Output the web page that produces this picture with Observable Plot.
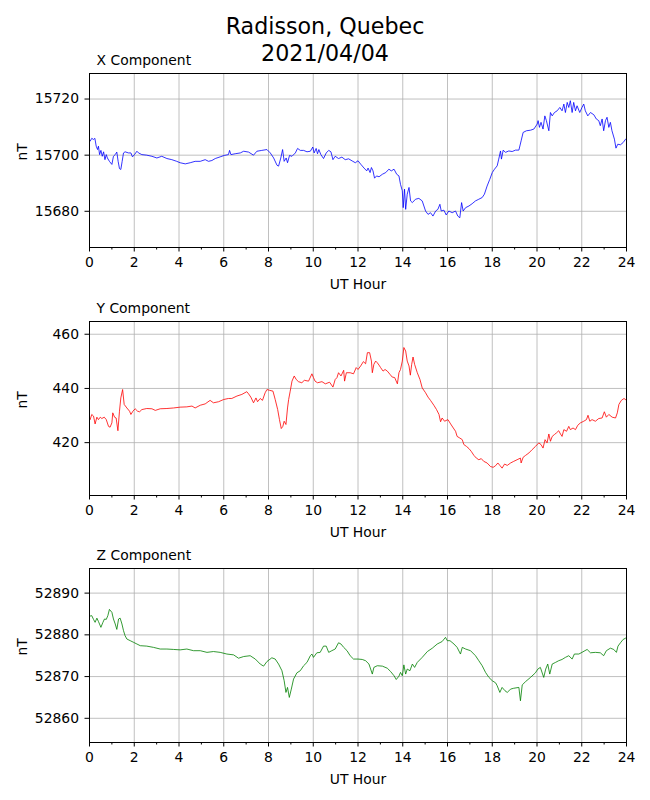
<!DOCTYPE html>
<html><head><meta charset="utf-8">
<script src="https://cdn.jsdelivr.net/npm/d3@7"></script>
<script src="https://cdn.jsdelivr.net/npm/@observablehq/plot@0.6"></script>
<style>
body{margin:0;background:#fff;width:650px;height:800px;position:relative;overflow:hidden;font-family:"DejaVu Sans",sans-serif;}
#title{position:absolute;left:0;top:13px;width:650px;text-align:center;font-size:22.2px;line-height:27.4px;color:#000;}
.panel{position:absolute;left:0;}
</style></head><body>
<div id="title">Radisson, Quebec<br>2021/04/04</div>
<div id="p0" class="panel"></div>
<div id="p1" class="panel"></div>
<div id="p2" class="panel"></div>
<script>
// [UT hour, nT]
const xComponent = [[0.03,15705.0],[0.10,15706.0],[0.18,15705.6],[0.24,15706.0],[0.30,15703.2],[0.36,15702.0],[0.40,15703.2],[0.45,15700.2],[0.51,15701.7],[0.57,15699.6],[0.63,15701.2],[0.69,15698.4],[0.75,15700.2],[0.80,15699.0],[0.89,15697.8],[1.00,15696.7],[1.07,15699.6],[1.15,15700.2],[1.22,15701.1],[1.28,15697.8],[1.34,15695.2],[1.40,15694.9],[1.46,15697.8],[1.52,15700.8],[1.59,15701.2],[1.74,15700.8],[1.85,15700.8],[1.92,15699.4],[2.01,15700.2],[2.12,15701.4],[2.19,15700.8],[2.34,15700.2],[2.56,15700.0],[2.79,15699.6],[3.01,15699.0],[3.23,15699.6],[3.46,15698.8],[3.68,15698.4],[3.90,15697.8],[4.05,15697.3],[4.28,15696.9],[4.50,15697.3],[4.72,15697.8],[4.95,15697.8],[5.17,15698.4],[5.32,15697.8],[5.47,15698.1],[5.62,15698.8],[5.84,15699.4],[6.02,15699.9],[6.21,15700.2],[6.26,15701.7],[6.32,15700.2],[6.51,15700.5],[6.74,15700.8],[6.89,15701.4],[7.11,15701.1],[7.33,15700.0],[7.48,15701.4],[7.70,15701.7],[7.93,15702.0],[8.08,15700.8],[8.23,15699.0],[8.38,15696.4],[8.45,15696.1],[8.55,15699.0],[8.63,15702.0],[8.70,15697.8],[8.79,15699.0],[8.85,15697.3],[8.94,15699.9],[9.05,15699.6],[9.20,15700.8],[9.30,15702.4],[9.42,15701.7],[9.57,15701.7],[9.72,15701.2],[9.87,15701.4],[9.98,15702.9],[10.04,15700.8],[10.13,15702.4],[10.19,15700.5],[10.25,15702.0],[10.34,15700.2],[10.46,15698.8],[10.58,15700.8],[10.69,15701.7],[10.79,15701.2],[10.88,15698.4],[10.98,15699.6],[11.13,15698.8],[11.28,15699.3],[11.43,15698.4],[11.58,15698.7],[11.77,15697.8],[11.88,15697.3],
[12.00,15698.0],[12.12,15696.8],[12.27,15695.4],[12.39,15694.4],[12.45,15695.4],[12.54,15693.8],[12.60,15695.6],[12.67,15694.4],[12.74,15691.8],[12.83,15692.6],[12.94,15692.3],[13.09,15693.2],[13.24,15693.8],[13.38,15695.0],[13.49,15694.4],[13.61,15695.0],[13.73,15693.2],[13.83,15692.6],[13.90,15689.6],[13.98,15687.3],[14.02,15681.3],[14.08,15687.9],[14.13,15680.7],[14.20,15686.1],[14.28,15688.5],[14.35,15683.7],[14.43,15683.1],[14.57,15684.3],[14.72,15684.6],[14.87,15683.7],[15.02,15680.1],[15.13,15678.9],[15.24,15679.5],[15.35,15678.3],[15.47,15680.1],[15.57,15680.7],[15.66,15682.5],[15.72,15680.1],[15.84,15680.4],[15.94,15678.7],[16.06,15680.1],[16.21,15679.5],[16.36,15680.1],[16.46,15678.3],[16.55,15677.7],[16.63,15683.1],[16.70,15680.1],[16.81,15681.3],[16.96,15681.9],[17.10,15682.7],[17.25,15683.7],[17.40,15684.3],[17.55,15684.9],[17.65,15686.1],[17.77,15689.0],[17.89,15691.4],[18.00,15693.8],[18.10,15695.0],[18.22,15696.2],[18.29,15698.6],[18.37,15701.5],[18.41,15698.6],[18.49,15701.8],[18.59,15701.0],[18.74,15701.5],[18.89,15701.3],[19.04,15701.8],[19.19,15701.8],[19.29,15705.1],[19.38,15708.1],[19.53,15708.7],[19.71,15708.9],[19.86,15709.3],[20.01,15711.1],[20.05,15712.3],[20.11,15709.9],[20.18,15711.7],[20.27,15709.3],[20.35,15714.0],[20.42,15712.3],[20.53,15708.7],[20.60,15715.2],[20.68,15714.0],[20.78,15715.2],[20.90,15715.8],[21.02,15717.0],[21.12,15715.8],[21.20,15718.2],[21.27,15715.2],[21.35,15718.8],[21.42,15717.0],[21.49,15719.4],[21.57,15715.2],[21.64,15718.8],[21.72,15715.8],[21.79,15717.6],[21.91,15715.2],[22.01,15717.0],[22.09,15718.2],[22.16,15715.8],[22.27,15714.0],[22.39,15715.2],[22.54,15714.4],[22.65,15712.9],[22.76,15712.3],[22.83,15710.5],[22.91,15712.9],[22.98,15708.7],[23.06,15712.3],[23.13,15713.5],[23.21,15709.9],[23.28,15711.7],[23.35,15708.7],[23.46,15705.7],[23.53,15702.5],[23.61,15703.9],[23.73,15703.7],[23.85,15704.5],[23.96,15705.7],[24.00,15705.5]];

const yComponent = [[0.03,428.5],[0.10,430.4],[0.18,429.8],[0.25,426.9],[0.33,429.4],[0.40,428.5],[0.48,429.4],[0.55,428.9],[0.66,429.4],[0.75,428.5],[0.85,426.0],[0.92,425.7],[1.00,427.3],[1.04,431.0],[1.12,429.4],[1.19,429.1],[1.27,424.4],[1.34,431.6],[1.40,436.5],[1.48,439.6],[1.55,434.1],[1.67,432.8],[1.79,431.6],[1.85,430.4],[1.94,431.6],[2.04,432.5],[2.15,431.6],[2.24,431.4],[2.34,432.2],[2.56,432.6],[2.79,432.5],[2.94,431.9],[3.16,432.5],[3.46,432.6],[3.76,432.8],[4.05,433.1],[4.35,433.2],[4.58,433.5],[4.72,432.8],[4.95,433.8],[5.17,434.3],[5.39,435.6],[5.54,434.7],[5.77,435.1],[5.99,435.9],[6.21,436.3],[6.36,436.3],[6.59,437.2],[6.81,437.8],[7.03,438.8],[7.11,438.0],[7.21,436.8],[7.33,434.7],[7.44,436.5],[7.51,435.1],[7.63,436.3],[7.73,435.6],[7.85,438.4],[7.93,439.6],[8.05,439.3],[8.20,439.0],[8.30,435.9],[8.41,432.2],[8.49,428.5],[8.57,425.2],[8.64,426.0],[8.70,427.9],[8.78,426.7],[8.85,432.8],[8.90,435.9],[8.97,439.0],[9.05,442.7],[9.15,444.6],[9.24,443.3],[9.34,442.5],[9.49,442.1],[9.60,443.0],[9.79,442.7],[9.94,445.4],[10.01,444.0],[10.08,442.7],[10.19,442.1],[10.39,442.5],[10.54,441.7],[10.73,442.3],[10.88,440.5],[10.98,443.3],[11.06,444.0],[11.13,445.8],[11.24,444.6],[11.36,446.7],[11.40,442.7],[11.48,445.8],[11.65,445.8],[11.80,445.4],[11.92,447.7],
[12.00,447.0],[12.12,448.3],[12.24,449.9],[12.34,449.1],[12.42,453.2],[12.52,453.2],[12.60,450.1],[12.64,445.8],[12.71,448.9],[12.79,450.1],[12.86,449.5],[12.94,448.6],[13.01,447.7],[13.12,446.4],[13.21,447.0],[13.31,446.4],[13.43,445.2],[13.53,444.2],[13.64,444.0],[13.76,441.7],[13.83,445.8],[13.90,447.0],[13.98,450.1],[14.05,455.1],[14.13,453.8],[14.20,450.1],[14.28,448.3],[14.34,444.9],[14.40,448.9],[14.46,451.6],[14.53,448.9],[14.65,445.8],[14.77,443.3],[14.87,440.2],[15.02,438.4],[15.13,436.8],[15.24,435.6],[15.39,433.8],[15.51,432.2],[15.62,430.4],[15.69,427.7],[15.76,429.1],[15.87,427.9],[16.02,428.5],[16.14,426.9],[16.26,425.4],[16.36,424.2],[16.43,422.3],[16.55,421.7],[16.66,421.1],[16.73,419.3],[16.85,418.6],[16.96,417.8],[17.06,416.8],[17.18,415.3],[17.29,414.3],[17.40,413.7],[17.51,414.1],[17.62,413.1],[17.77,412.5],[17.92,411.2],[18.04,410.9],[18.15,411.5],[18.25,412.5],[18.34,411.6],[18.44,410.6],[18.55,412.1],[18.67,411.6],[18.82,412.5],[18.96,413.1],[19.11,413.7],[19.26,414.3],[19.29,412.5],[19.38,414.6],[19.49,415.3],[19.64,416.2],[19.78,417.4],[19.93,418.6],[20.08,419.9],[20.18,419.3],[20.27,418.0],[20.36,421.1],[20.45,419.9],[20.53,423.2],[20.60,420.5],[20.68,422.3],[20.78,423.0],[20.87,423.6],[20.97,424.4],[21.05,423.2],[21.12,422.3],[21.20,424.8],[21.32,424.2],[21.42,426.0],[21.49,424.8],[21.61,425.4],[21.72,424.8],[21.82,426.4],[21.94,427.3],[22.09,427.9],[22.21,428.5],[22.28,430.1],[22.36,427.9],[22.46,428.5],[22.61,427.9],[22.76,428.9],[22.91,429.1],[23.01,431.4],[23.10,429.4],[23.21,430.4],[23.36,429.4],[23.51,429.1],[23.59,431.0],[23.66,434.1],[23.77,435.6],[23.89,436.3],[24.00,435.6]];

const zComponent = [[0.03,52884.5],[0.10,52884.6],[0.18,52883.7],[0.25,52883.0],[0.33,52884.0],[0.40,52883.2],[0.51,52881.8],[0.60,52883.0],[0.67,52883.8],[0.75,52883.7],[0.82,52884.6],[0.89,52886.1],[1.00,52885.4],[1.07,52883.8],[1.15,52882.6],[1.22,52881.3],[1.30,52883.8],[1.37,52884.0],[1.45,52882.6],[1.52,52881.0],[1.59,52879.8],[1.67,52879.0],[1.82,52878.6],[1.97,52878.2],[2.12,52877.8],[2.27,52877.4],[2.56,52877.3],[2.86,52877.0],[3.16,52876.6],[3.46,52876.6],[3.76,52876.5],[4.05,52876.4],[4.35,52876.6],[4.65,52876.2],[4.95,52876.2],[5.25,52875.8],[5.54,52876.0],[5.84,52875.8],[6.14,52875.4],[6.44,52875.2],[6.66,52874.4],[6.89,52874.8],[7.18,52875.0],[7.41,52874.2],[7.63,52873.0],[7.78,52872.5],[7.93,52873.6],[8.15,52874.5],[8.30,52874.2],[8.45,52873.0],[8.60,52871.4],[8.70,52869.0],[8.78,52866.2],[8.85,52867.4],[8.93,52865.0],[9.02,52867.0],[9.12,52869.4],[9.27,52870.9],[9.42,52871.4],[9.57,52872.6],[9.72,52873.4],[9.87,52875.0],[9.94,52875.4],[10.01,52874.6],[10.16,52875.7],[10.31,52875.8],[10.46,52877.3],[10.58,52877.3],[10.69,52875.8],[10.83,52876.2],[10.98,52876.6],[11.13,52878.1],[11.24,52877.8],[11.36,52877.0],[11.51,52876.2],[11.65,52875.0],[11.80,52874.2],
[12.00,52874.2],[12.19,52874.1],[12.34,52873.8],[12.49,52873.0],[12.64,52870.6],[12.71,52872.2],[12.86,52872.6],[13.09,52872.5],[13.31,52872.0],[13.46,52871.2],[13.61,52870.2],[13.71,52869.3],[13.83,52870.1],[13.90,52871.0],[13.98,52870.2],[14.05,52872.8],[14.13,52870.6],[14.20,52871.8],[14.32,52871.4],[14.43,52873.0],[14.53,52872.2],[14.65,52873.4],[14.87,52874.6],[15.10,52876.0],[15.32,52876.8],[15.54,52877.8],[15.76,52878.4],[15.91,52879.4],[15.99,52878.6],[16.11,52878.6],[16.29,52877.8],[16.43,52877.0],[16.58,52875.4],[16.66,52877.0],[16.81,52876.6],[17.03,52876.2],[17.25,52875.0],[17.40,52873.8],[17.55,52872.6],[17.70,52871.0],[17.85,52869.8],[18.00,52869.0],[18.15,52868.5],[18.22,52867.8],[18.34,52866.2],[18.44,52867.4],[18.57,52866.6],[18.67,52866.2],[18.82,52867.0],[18.96,52867.2],[19.19,52867.4],[19.26,52864.2],[19.34,52868.0],[19.49,52868.8],[19.71,52869.8],[19.93,52870.9],[20.04,52871.8],[20.15,52872.2],[20.30,52869.8],[20.39,52871.8],[20.48,52873.0],[20.57,52870.6],[20.68,52873.0],[20.83,52873.4],[20.97,52873.8],[21.12,52874.1],[21.27,52874.6],[21.42,52875.0],[21.57,52874.2],[21.67,52875.4],[21.87,52875.4],[22.01,52875.8],[22.24,52876.5],[22.39,52875.7],[22.61,52875.8],[22.83,52875.7],[22.98,52875.0],[23.10,52876.2],[23.28,52876.8],[23.43,52876.5],[23.55,52875.8],[23.62,52877.3],[23.73,52878.1],[23.85,52878.9],[23.96,52879.2],[24.00,52879.0]];

const panelTitles = ["X Component", "Y Component", "Z Component"];
const lineColors = ["#0000ff", "#ff0000", "#008000"];
const yDomains = [[15667.1, 15729.1], [400.5, 464.7], [52854.2, 52895.9]];
const yTickValues = [[15680, 15700, 15720], [420, 440, 460], [52860, 52870, 52880, 52890]];
const hourTicks = [0, 2, 4, 6, 8, 10, 12, 14, 16, 18, 20, 22, 24];
const minorHourTicks = [1, 3, 5, 7, 9, 11, 13, 15, 17, 19, 21, 23];
const xLabel = "UT Hour";
const yLabel = "nT";

const series = [xComponent, yComponent, zComponent];
const axesTops = [72.5, 320.5, 567.5];
const MT = 40, FRAME_H = 174, MB = 56;

series.forEach((pts, i) => {
  const data = pts.map(([h, v]) => ({h, v}));
  const grid = {stroke: "#b0b0b0", strokeOpacity: 1, strokeWidth: 0.8};
  const chart = Plot.plot({
    width: 650,
    height: MT + FRAME_H + MB,
    marginLeft: 89, marginRight: 24, marginTop: MT, marginBottom: MB,
    style: {fontFamily: "DejaVu Sans", fontSize: "13.9px", background: "transparent", color: "black", overflow: "visible"},
    x: {domain: [0, 24]},
    y: {domain: yDomains[i]},
    marks: [
      Plot.gridX(hourTicks, grid),
      Plot.gridY(yTickValues[i], grid),
      Plot.line(data, {x: "h", y: "v", stroke: lineColors[i], strokeWidth: 0.8}),
      Plot.frame({stroke: "black", strokeWidth: 1}),
      Plot.axisX(hourTicks, {tickSize: 4.5, tickPadding: 5, label: null, tickFormat: d => String(d), stroke: "black"}),
      Plot.axisX(minorHourTicks, {tickSize: 2.5, text: null, label: null, stroke: "black"}),
      Plot.axisY(yTickValues[i], {tickSize: 4.5, tickPadding: 6, label: null, tickFormat: d => String(d), stroke: "black"}),
      Plot.text([panelTitles[i]], {text: d => d, frameAnchor: "top-left", textAnchor: "start", lineAnchor: "bottom", dx: 7, dy: -8.5, fill: "black"}),
      Plot.text([xLabel], {text: d => d, frameAnchor: "bottom", lineAnchor: "bottom", dy: 41, fill: "black"}),
      Plot.text([yLabel], {text: d => d, frameAnchor: "left", rotate: -90, dx: -67, fill: "black"})
    ]
  });
  const host = document.getElementById("p" + i);
  host.style.top = (axesTops[i] - MT) + "px";
  host.appendChild(chart);
});
</script>
</body></html>
